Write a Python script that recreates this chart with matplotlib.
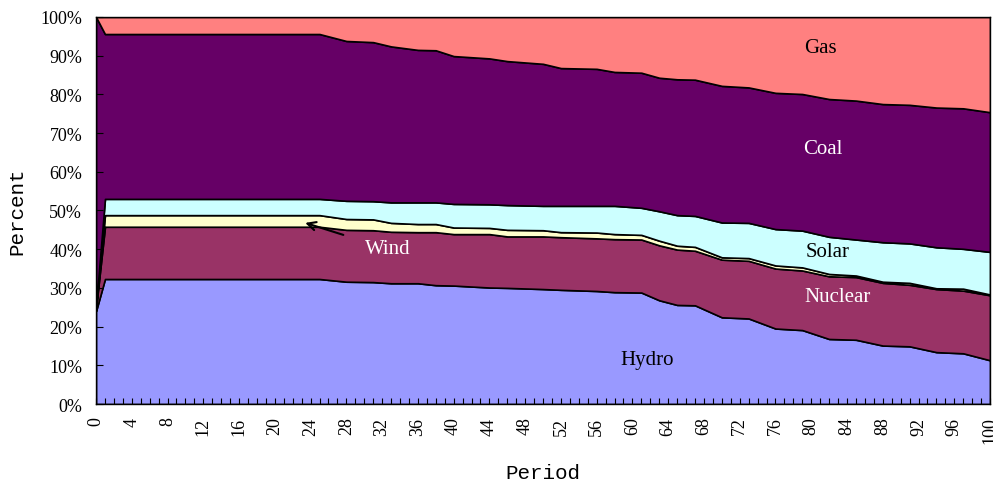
import matplotlib.pyplot as plt
from matplotlib.ticker import MultipleLocator, FuncFormatter

# Generation mix by period (percent of total)
periods = [0, 1, 25, 28, 31, 33, 36, 38, 40, 44, 46, 50, 52, 56, 58,
           61, 63, 65, 67, 70, 73, 76, 79, 82, 85, 88, 91, 94, 97, 100]
hydro = [24.0, 32.3, 32.3, 31.6, 31.5, 31.2, 31.2, 30.7, 30.6, 30.1, 30.0, 29.7, 29.5, 29.2, 28.9,
         28.8, 26.8, 25.6, 25.5, 22.4, 22.1, 19.5, 19.1, 16.8, 16.6, 15.1, 14.9, 13.4, 13.1, 11.3]
nuclear = [0.8, 13.5, 13.5, 13.4, 13.4, 13.3, 13.2, 13.7, 13.3, 13.8, 13.3, 13.6, 13.6, 13.6, 13.7,
           13.7, 14.2, 14.3, 14.1, 14.9, 14.9, 15.5, 15.4, 16.2, 16.2, 16.2, 15.9, 16.3, 16.2, 16.8]
wind = [0.2, 3.0, 3.0, 2.8, 2.8, 2.3, 2.1, 2.1, 1.7, 1.6, 1.7, 1.6, 1.3, 1.5, 1.3,
        1.2, 1.2, 1.0, 1.0, 0.6, 0.7, 0.8, 0.8, 0.6, 0.4, 0.3, 0.5, 0.2, 0.5, 0.2]
solar = [0.3, 4.2, 4.2, 4.7, 4.7, 5.3, 5.6, 5.6, 6.1, 6.1, 6.4, 6.3, 6.8, 6.9, 7.3,
         7.0, 7.6, 7.9, 8.0, 9.0, 9.1, 9.4, 9.5, 9.6, 9.3, 10.2, 10.2, 10.6, 10.3, 11.0]
coal = [74.7, 42.6, 42.6, 41.3, 41.1, 40.3, 39.4, 39.3, 38.2, 37.7, 37.2, 36.7, 35.6, 35.4, 34.6,
        34.9, 34.5, 35.1, 35.2, 35.3, 35.0, 35.2, 35.3, 35.6, 35.9, 35.7, 35.8, 36.1, 36.3, 36.1]
gas = [0.0, 4.4, 4.4, 6.2, 6.5, 7.6, 8.5, 8.6, 10.1, 10.7, 11.4, 12.1, 13.2, 13.4, 14.2,
       14.4, 15.7, 16.1, 16.2, 17.8, 18.2, 19.6, 19.9, 21.2, 21.6, 22.5, 22.7, 23.4, 23.6, 24.6]

colors = ['#9999FF', '#993366', '#FFFFCC', '#CCFFFF', '#660066', '#FF8080']
serif = 'Liberation Serif'
mono = 'Liberation Mono'

fig = plt.figure(figsize=(9.93, 4.81), dpi=100)
ax = fig.add_axes([0.0967, 0.158, 0.9003, 0.8046])

ax.stackplot(periods, hydro, nuclear, wind, solar, coal, gas,
             colors=colors, edgecolor='black', linewidth=1.2)

ax.set_xlim(0, 100)
ax.set_ylim(0, 100)
ax.xaxis.set_major_locator(MultipleLocator(4))
ax.xaxis.set_minor_locator(MultipleLocator(1))
ax.yaxis.set_major_locator(MultipleLocator(10))
ax.yaxis.set_major_formatter(FuncFormatter(lambda v, p: '%d%%' % v))
ax.tick_params(axis='x', which='both', direction='in', length=4, width=0.8,
               labelrotation=90, labelsize=13, pad=9)
ax.tick_params(axis='y', which='major', direction='in', length=5, width=0.8,
               labelsize=13, pad=10)
ax.tick_params(which='both', top=False, right=False)
for lab in ax.get_xticklabels() + ax.get_yticklabels():
    lab.set_fontfamily(serif)
for s in ax.spines.values():
    s.set_linewidth(1.0)
ax.set_axisbelow(False)

ax.set_xlabel('Period', fontsize=15, fontfamily=mono, labelpad=14)
ax.set_ylabel('Percent', fontsize=15, fontfamily=mono, labelpad=10)

# area labels
fs = 15
ax.text(81.0, 92.2, 'Gas', fontsize=fs, fontfamily=serif, color='black', ha='center', va='center')
ax.text(81.3, 65.9, 'Coal', fontsize=fs, fontfamily=serif, color='white', ha='center', va='center')
ax.text(81.8, 39.5, 'Solar', fontsize=fs, fontfamily=serif, color='black', ha='center', va='center')
ax.text(83.0, 27.9, 'Nuclear', fontsize=fs, fontfamily=serif, color='white', ha='center', va='center')
ax.text(61.7, 11.6, 'Hydro', fontsize=fs, fontfamily=serif, color='black', ha='center', va='center')
ax.annotate('Wind', xy=(23.4, 46.8), xytext=(32.6, 40.1), fontsize=fs, fontfamily=serif,
            color='white', ha='center', va='center',
            arrowprops=dict(arrowstyle='->', color='black', lw=1.5, shrinkA=14, shrinkB=0))

fig.savefig('out.png', dpi=100)
